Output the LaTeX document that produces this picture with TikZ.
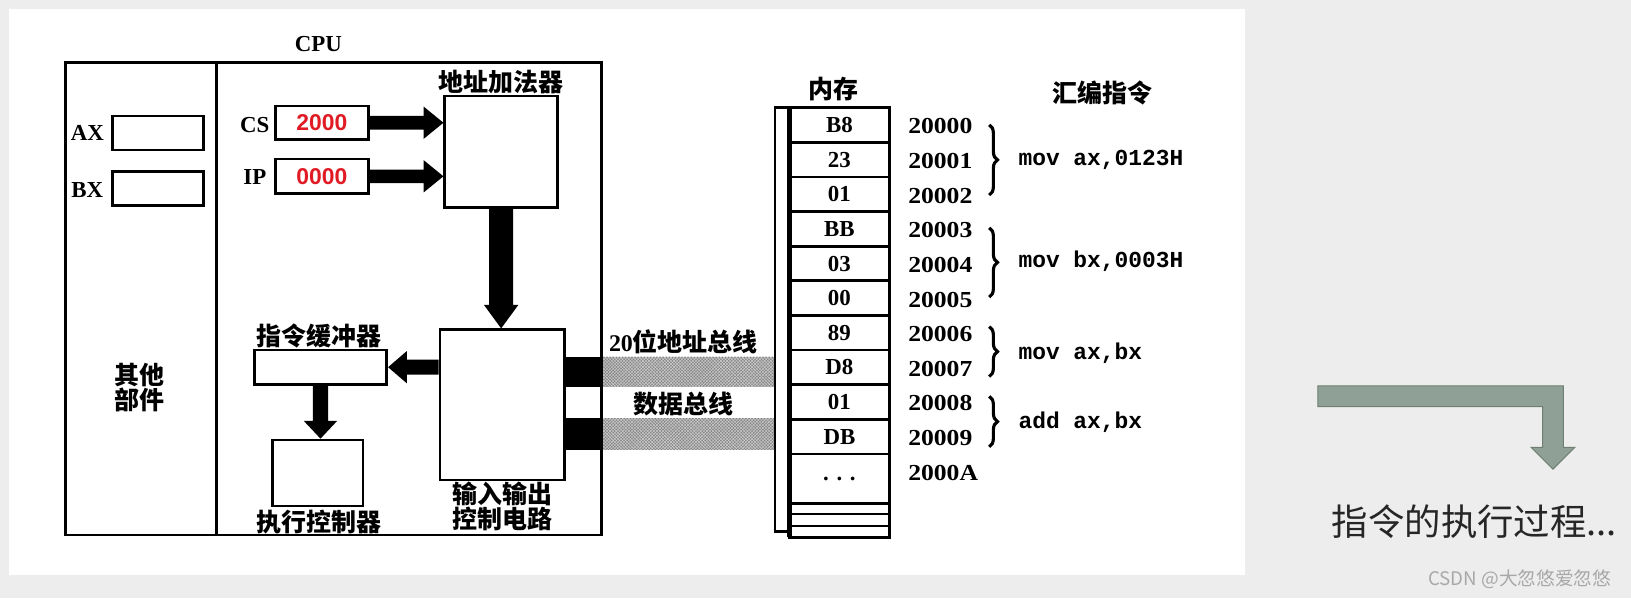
\documentclass[tikz,border=0pt]{standalone}
\usepackage{fontspec}
\setmainfont{Liberation Serif}
\setsansfont{Liberation Sans}
\setmonofont{Liberation Mono}
\newfontfamily\cjk{Noto Sans CJK SC}
\newfontfamily\wideserif[FakeStretch=1.12]{Liberation Serif}
\usetikzlibrary{calc,patterns,decorations.pathreplacing}
\definecolor{bgc}{HTML}{EDEDED}
\definecolor{regred}{HTML}{E01B24}
\definecolor{arrfill}{HTML}{8FA096}
\definecolor{arrline}{HTML}{6F7F74}
\definecolor{busgray}{HTML}{858585}
\definecolor{buslite}{HTML}{D0D0D0}
\definecolor{wmgray}{HTML}{A8A8A8}
\newcommand\fatH[5]{\fill let \p1=(#1), \p2=(#2), \p3=($(#2)!#5pt!(#1)$) in
  (\x1,{\y2+#3pt}) -- (\x3,{\y2+#3pt}) -- (\x3,{\y2+#4pt}) -- (\x2,\y2)
  -- (\x3,{\y2-#4pt}) -- (\x3,{\y2-#3pt}) -- (\x1,{\y2-#3pt}) -- cycle;}
\newcommand\fatV[5]{\fill let \p1=(#1), \p2=(#2), \p3=($(#2)!#5pt!(#1)$) in
  ({\x2+#3pt},\y1) -- ({\x2+#3pt},\y3) -- ({\x2+#4pt},\y3) -- (\x2,\y2)
  -- ({\x2-#4pt},\y3) -- ({\x2-#3pt},\y3) -- ({\x2-#3pt},\y1) -- cycle;}
\begin{document}
\begin{tikzpicture}[x=1pt,y=-1pt,
  box/.style={draw, line width=2.6pt, fill=white, inner sep=0pt},
  lab/.style={font=\bfseries\fontsize{22}{24}\selectfont, inner sep=0pt},
  addr/.style={font=\wideserif\bfseries\fontsize{22}{24}\selectfont, inner sep=0pt, anchor=west},
  zh/.style={font=\cjk\bfseries\fontsize{24}{21}\selectfont, inner sep=0pt, align=center},
  asm/.style={font=\ttfamily\bfseries\fontsize{22}{24}\selectfont, inner sep=0pt, anchor=west},
  regv/.style={box, font=\sffamily\bfseries\fontsize{22}{24}\selectfont, text=regred},
  cell/.style={box, minimum width=96pt, font=\bfseries\fontsize{22}{24}\selectfont},
  brc/.style={decorate, decoration={brace, amplitude=8pt}, line width=3pt},
  busband/.style={fill=busgray, postaction={pattern=crosshatch, pattern color=buslite}},
]
\useasboundingbox (0,0) rectangle (1568,575);
\fill[bgc] (0,0) rectangle (1568,575);
\fill[white] (9,9) rectangle (1197,553);

% memory back panel
\node[box, minimum width=14pt, minimum height=407.5pt] (memback) at (752,307.25) {};

% CPU frame
\node[draw, line width=2.6pt, minimum width=515.3pt, minimum height=454pt, inner sep=0pt] (cpu) at (320.35,287.3) {};
\coordinate (dv) at (208.3,0);
\draw[line width=2.6pt] (cpu.north -| dv) -- (cpu.south -| dv);
\node[lab] (cpulab) at (306,42) {CPU};

% buses
\coordinate (ab1) at (0,343.2);
\coordinate (ab2) at (0,372);
\coordinate (db1) at (0,402);
\coordinate (db2) at (0,432.6);
\fill[busband] (cpu.east|-ab1) rectangle (memback.west|-ab2);
\fill[busband] (cpu.east|-db1) rectangle (memback.west|-db2);
\node[box, minimum width=14pt, minimum height=407.5pt] (memback2) at (752,307.25) {};
\node[zh] (ablab) at (657,329) {{\rmfamily\bfseries\fontsize{23}{23}\selectfont 20}位地址总线};
\node[zh] (dblab) at (657,388) {数据总线};

% registers
\node[lab] (axlab) at (84,128) {AX};
\node[box, minimum width=87.5pt, minimum height=32.7pt] (ax) at (152,127.9) {};
\node[lab] (bxlab) at (84,182.7) {BX};
\node[box, minimum width=87.5pt, minimum height=32.7pt] (bx) at (152,181.4) {};
\node[zh] (other) at (133.8,373) {其他\\部件};

\node[lab] (cslab) at (245,120) {CS};
\node[regv, minimum width=89pt, minimum height=32pt] (cs) at (309.5,118) {2000};
\node[lab] (iplab) at (245,170) {IP};
\node[regv, minimum width=89pt, minimum height=33pt] (ip) at (309.5,169.5) {0000};

\node[box, minimum width=108.4pt, minimum height=107pt] (adder) at (481.8,145.8) {};
\node[zh] (adderlab) at (482,78.5) {地址加法器};

\node[box, minimum width=119.8pt, minimum height=144.5pt] (io) at (482.9,389.25) {};
\node[zh] (iolab) at (483,486.5) {输入输出\\控制电路};

\node[box, minimum width=127.4pt, minimum height=33pt] (buf) at (308.1,353) {};
\node[zh] (buflab) at (307,323) {指令缓冲器};

\node[box, minimum width=86.7pt, minimum height=63.5pt] (exec) at (305.65,454.75) {};
\node[zh] (execlab) at (307,501.5) {执行控制器};

% black bus stubs
\fill (io.east|-ab1) rectangle (cpu.east|-ab2);
\fill (io.east|-db1) rectangle (cpu.east|-db2);

% fat arrows
\fatH{cs.east}{adder.west|-cs.east}{6.5}{15.5}{19}
\fatH{ip.east}{adder.west|-ip.east}{6.5}{15.5}{19}
\fatV{adder.south}{adder.south|-io.north}{11.5}{16.5}{22.5}
\fatH{io.west|-buf.east}{buf.east}{7.25}{15.5}{18}
\fatV{buf.south}{buf.south|-exec.north}{7.25}{16}{17}

% memory cells
\node[cell, minimum height=33.3pt] (c0) at (807,120.15) {B8};
\node[cell, minimum height=33.3pt] (c1) at (807,153.45) {23};
\node[cell, minimum height=33.3pt] (c2) at (807,186.75) {01};
\node[cell, minimum height=33.3pt] (c3) at (807,220.05) {BB};
\node[cell, minimum height=33.3pt] (c4) at (807,253.35) {03};
\node[cell, minimum height=33.3pt] (c5) at (807,286.65) {00};
\node[cell, minimum height=33.3pt] (c6) at (807,319.95) {89};
\node[cell, minimum height=33.3pt] (c7) at (807,353.25) {D8};
\node[cell, minimum height=33.3pt] (c8) at (807,386.55) {01};
\node[cell, minimum height=33.3pt] (c9) at (807,419.85) {DB};
\node[cell, minimum height=47.5pt] (c10) at (807,460.25) {.\,\,.\,\,.};
\node[cell, minimum height=10.1pt] (s1) at (807,489.05) {};
\node[cell, minimum height=11.6pt] (s2) at (807,499.9) {};
\node[cell, minimum height=10.9pt] (s3) at (807,511.15) {};
\draw[line width=4.5pt] (759,103.5) -- (759,516.6);
\node[zh] (memlab) at (801,86) {内存};
\node[zh] (asmlab) at (1060,89.7) {汇编指令};

% addresses
\node[addr] (a0) at (873,121.5) {20000};
\node[addr] (a1) at (873,154.8) {20001};
\node[addr] (a2) at (873,188.1) {20002};
\node[addr] (a3) at (873,221.4) {20003};
\node[addr] (a4) at (873,254.7) {20004};
\node[addr] (a5) at (873,288) {20005};
\node[addr] (a6) at (873,321.3) {20006};
\node[addr] (a7) at (873,354.6) {20007};
\node[addr] (a8) at (873,387.9) {20008};
\node[addr] (a9) at (873,421.2) {20009};
\node[addr] (a10) at (873,455) {2000A};

% braces
\draw[brc] (951,120) -- (951,187.5);
\draw[brc] (951,219) -- (951,285.6);
\draw[brc] (951,314) -- (951,362);
\draw[brc] (951,381) -- (951,429.5);

% instructions
\node[asm] (i1) at (979,154) {mov ax,0123H};
\node[asm] (i2) at (979,251.6) {mov bx,0003H};
\node[asm] (i3) at (979,340) {mov ax,bx};
\node[asm] (i4) at (979,406) {add ax,bx};

% right side
\draw[fill=arrfill, draw=arrline, line width=1pt]
  (1267,371) -- (1503,371) -- (1503,430) -- (1514,430) -- (1493,451) -- (1472,430)
  -- (1483,430) -- (1483,391) -- (1267,391) -- cycle;
\node[font=\cjk\fontsize{35}{38}\selectfont, text=black!85, inner sep=0pt] (title) at (1417.5,502) {指令的执行过程...};
\node[font=\cjk\fontsize{18}{20}\selectfont, text=wmgray, inner sep=0pt] (wm) at (1461,557) {CSDN @大忽悠爱忽悠};
\end{tikzpicture}
\end{document}
